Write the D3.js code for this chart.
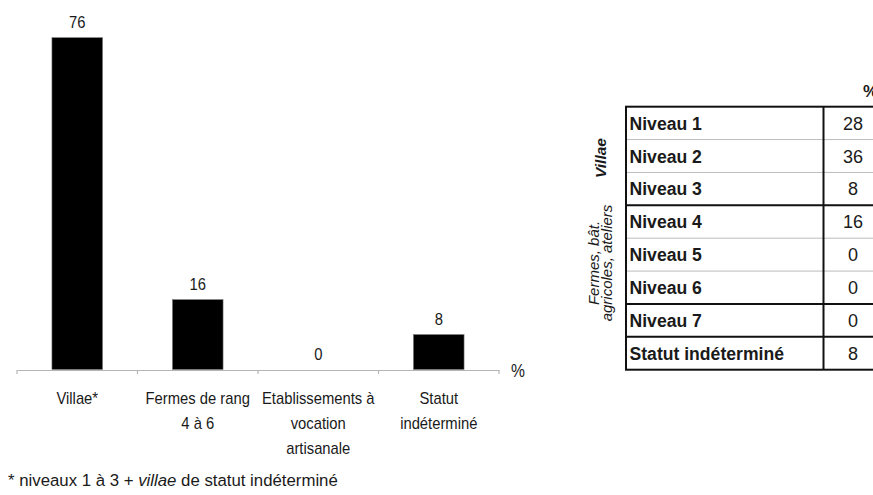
<!DOCTYPE html>
<html><head><meta charset="utf-8">
<script src="https://cdn.jsdelivr.net/npm/d3@7"></script>
<style>
html,body{margin:0;padding:0;background:#fff;}
svg{display:block;font-family:"Liberation Sans",Arial,sans-serif;}
</style></head>
<body>
<svg id="chart" width="873" height="495"></svg>
<script>
// ---- data ----
const categories = ["Villae*", "Fermes de rang\n4 à 6", "Etablissements à\nvocation\nartisanale", "Statut\nindéterminé"];
const values = [76, 16, 0, 8];
const tableLabels = ["Niveau 1","Niveau 2","Niveau 3","Niveau 4","Niveau 5","Niveau 6","Niveau 7","Statut indéterminé"];
const tableValues = [28, 36, 8, 16, 0, 0, 0, 8];
const thickAfter = [2, 5, 6]; // row indices followed by a thick rule
const groupLabels = [
  {lines:["Villae"], bold:true},
  {lines:["Fermes, bât.","agricoles, ateliers"], bold:false}
];
const footnote = ["* niveaux 1 à 3 + ", "villae", " de statut indéterminé"];

const svg = d3.select("#chart");
const txt = "#1a1a1a";
const narrow = 0.87; // horizontal squeeze of chart lettering

// ---- bar chart ----
const x = d3.scaleBand().domain(d3.range(categories.length)).range([17, 499]).padding(0);
const y = d3.scaleLinear().domain([0, 80]).range([369.5, 20.2]);
const barW = x.bandwidth() * 0.42;

svg.append("g").selectAll("rect").data(values).join("rect")
  .attr("x", (d,i) => x(i) + (x.bandwidth()-barW)/2)
  .attr("y", d => y(d))
  .attr("width", barW)
  .attr("height", d => y(0) - y(d))
  .attr("fill", "#000")
  .attr("stroke", "#777").attr("stroke-width", 0.6);

// axis
const axis = d3.axisBottom(x).tickSize(0).tickFormat("");
const ag = svg.append("g").attr("transform", `translate(0,${y(0)+0.5})`).call(axis);
ag.select(".domain").attr("stroke", "#b5b5b5").attr("stroke-width", 1.2);
const bounds = d3.range(categories.length + 1).map(i => i < categories.length ? x(i) : x(categories.length-1) + x.bandwidth());
ag.selectAll(".bt").data(bounds).join("line").attr("class","bt")
  .attr("x1", d => d).attr("x2", d => d).attr("y1", 0).attr("y2", 4)
  .attr("stroke", "#b5b5b5").attr("stroke-width", 1.2);

// value labels
svg.append("g").selectAll("text").data(values).join("text")
  .attr("transform", (d,i) => `translate(${x(i) + x.bandwidth()/2},${y(d) - 10}) scale(${narrow},1)`)
  .attr("text-anchor", "middle").attr("font-size", 17).attr("fill", txt)
  .text(d => d);

// category labels
const cl = svg.append("g").selectAll("text").data(categories).join("text")
  .attr("transform", (d,i) => `translate(${x(i) + x.bandwidth()/2},404) scale(${narrow},1)`)
  .attr("text-anchor", "middle").attr("font-size", 17).attr("fill", txt);
cl.selectAll("tspan").data(d => d.split("\n")).join("tspan")
  .attr("x", 0)
  .attr("y", (d,i) => i * 25)
  .text(d => d);

svg.append("text").attr("transform", `translate(511,377) scale(${narrow},1)`)
  .attr("font-size", 18).attr("fill", txt).text("%");

// footnote
const fn = svg.append("text").attr("x", 8).attr("y", 486).attr("font-size", 16.8).attr("fill", txt);
fn.selectAll("tspan").data(footnote).join("tspan")
  .attr("font-style", (d,i) => i === 1 ? "italic" : "normal")
  .text(d => d);

// ---- table ----
const tLeft = 626, tDiv = 823.5, tRight = 884;
const ty = d3.scaleBand().domain(d3.range(tableLabels.length)).range([106.7, 369.7]);
const tg = svg.append("g");

tg.selectAll(".thin").data(d3.range(1, tableLabels.length).filter(i => !thickAfter.includes(i-1))).join("line")
  .attr("x1", tLeft).attr("x2", tRight)
  .attr("y1", i => ty(i)).attr("y2", i => ty(i))
  .attr("stroke", "#bbb").attr("stroke-width", 1);
tg.selectAll(".thick").data(thickAfter.map(i => i+1)).join("line")
  .attr("x1", tLeft).attr("x2", tRight)
  .attr("y1", i => ty(i)).attr("y2", i => ty(i))
  .attr("stroke", "#111").attr("stroke-width", 2);
tg.append("rect").attr("x", tLeft).attr("y", ty(0))
  .attr("width", tRight - tLeft).attr("height", ty.range()[1] - ty(0))
  .attr("fill", "none").attr("stroke", "#111").attr("stroke-width", 2);
tg.append("line").attr("x1", tDiv).attr("x2", tDiv).attr("y1", ty(0)).attr("y2", ty.range()[1])
  .attr("stroke", "#111").attr("stroke-width", 2);

tg.selectAll(".lab").data(tableLabels).join("text")
  .attr("x", tLeft + 3.5).attr("y", (d,i) => ty(i) + ty.bandwidth()/2 + 6.5)
  .attr("font-size", 17.6).attr("font-weight", "bold").attr("fill", txt)
  .text(d => d);
tg.selectAll(".val").data(tableValues).join("text")
  .attr("x", 853).attr("y", (d,i) => ty(i) + ty.bandwidth()/2 + 6.5)
  .attr("text-anchor", "middle").attr("font-size", 18).attr("fill", txt)
  .text(d => d);
svg.append("text").attr("x", 863).attr("y", 97).attr("font-size", 17).attr("font-weight","bold").attr("fill", txt).text("%");

// rotated group labels
const centers = [[601, 158], [600.5, 263]];
groupLabels.forEach((g, gi) => {
  const [cx, cy] = centers[gi];
  const t = svg.append("text")
    .attr("transform", `translate(${cx},${cy}) rotate(-90)`)
    .attr("text-anchor", "middle").attr("font-size", g.bold ? 15.5 : 15)
    .attr("font-style", "italic").attr("font-weight", g.bold ? "bold" : "normal")
    .attr("fill", txt);
  const n = g.lines.length;
  t.selectAll("tspan").data(g.lines).join("tspan")
    .attr("x", 0)
    .attr("y", (d,i) => (i - (n-1)/2) * 13.5 + 5)
    .text(d => d);
});
</script>
</body></html>
